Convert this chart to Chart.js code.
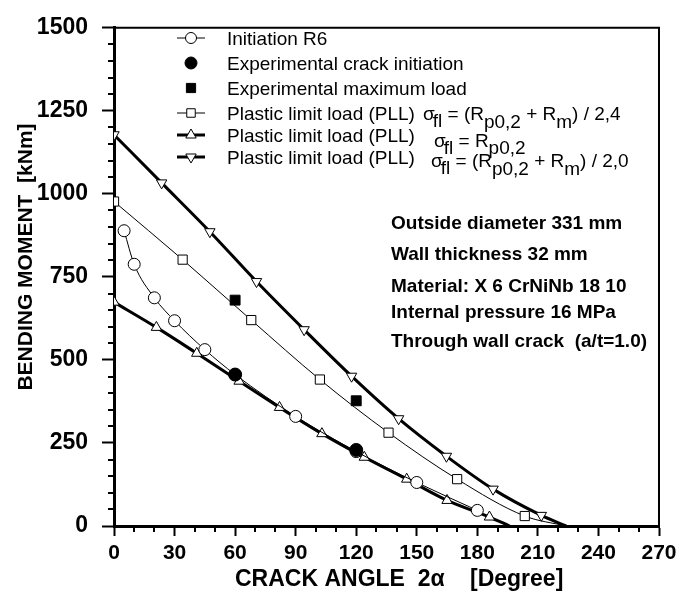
<!DOCTYPE html>
<html>
<head>
<meta charset="utf-8">
<script src="https://cdn.jsdelivr.net/npm/chart.js@4.4.1/dist/chart.umd.min.js"></script>
<style>
  html, body { margin: 0; padding: 0; background: #fff; }
  #wrap { width: 688px; height: 600px; }
</style>
</head>
<body>
<div id="wrap"><canvas id="chart" width="688" height="600"></canvas></div>
<script>
// values (crack angle in degree, moment in kNm)
const angleR6 = [5, 10, 20, 30, 45, 60, 90, 120, 150, 180];
const momentR6 = [889, 788, 687, 618, 531, 456, 330, 224, 131, 47];

const angleExpInit = [60, 120];
const momentExpInit = [456, 229];

const angleExpMax = [60, 120];
const momentExpMax = [680, 377];

const anglePll24 = [0, 34, 68, 102, 136, 170, 203.5, 224];
const momentPll24 = [977, 802, 620, 441, 281, 141, 30, 0];

const anglePllRp = [0, 21, 41, 62, 82, 103, 124, 145, 165, 186, 196];
const momentPllRp = [674, 598, 520, 436, 357, 278, 207, 141, 77, 27, 0];

const anglePll20 = [0, 23.6, 47.5, 70.6, 94.2, 117.7, 141, 164.7, 187.8, 211.7, 224];
const momentPll20 = [1178, 1033, 886, 736, 591, 451, 323, 210, 111, 32, 0];

const xTicks = [0, 30, 60, 90, 120, 150, 180, 210, 240, 270];
const yTicks = [0, 250, 500, 750, 1000, 1250, 1500];

const notes = [
  'Outside diameter 331 mm',
  'Wall thickness 32 mm',
  'Material: X 6 CrNiNb 18 10',
  'Internal pressure 16 MPa',
  'Through wall crack  (a/t=1.0)'
];

const FONT = "'Liberation Sans', Arial, sans-serif";
Chart.defaults.font.family = FONT;
Chart.defaults.color = '#000';

function pts(xs, ys) {
  return xs.map((v, i) => ({ x: v, y: ys[i] }));
}
// last point of a limit-load curve is the zero crossing, no marker there
function noLast(n, r) {
  return Array.from({ length: n }, (_, i) => (i === n - 1 ? 0 : r));
}

function rich(ctx, x, y, parts) {
  parts.forEach(p => {
    ctx.fillText(p[0], x, y + p[1]);
    x += ctx.measureText(p[0]).width + (p[2] || 0);
  });
}

const decor = {
  id: 'decor',
  afterDraw(chart) {
    const ctx = chart.ctx;
    const a = chart.chartArea;
    const xs = chart.scales.x, ys = chart.scales.y;
    ctx.save();
    ctx.strokeStyle = '#000';
    ctx.fillStyle = '#000';

    // frame top / right
    ctx.lineWidth = 2;
    ctx.beginPath();
    ctx.moveTo(a.left, a.top);
    ctx.lineTo(a.right, a.top);
    ctx.lineTo(a.right, a.bottom);
    ctx.stroke();

    // minor ticks
    ctx.lineWidth = 2;
    ctx.beginPath();
    for (let v = 50; v < 1500; v += 50) {
      if (v % 250 === 0) continue;
      const py = Math.round(ys.getPixelForValue(v));
      ctx.moveTo(a.left - 6, py);
      ctx.lineTo(a.left, py);
    }
    for (let v = 10; v < 270; v += 10) {
      if (v % 30 === 0) continue;
      const px = Math.round(xs.getPixelForValue(v));
      ctx.moveTo(px, a.bottom);
      ctx.lineTo(px, a.bottom + 6);
    }
    ctx.stroke();

    // axis titles
    ctx.font = 'bold 23px ' + FONT;
    ctx.textAlign = 'left';
    ctx.textBaseline = 'middle';
    ctx.fillText('CRACK ANGLE  2\u03b1', 235, 580);
    ctx.fillText('[Degree]', 470, 580);
    ctx.save();
    ctx.translate(26, 257);
    ctx.rotate(-Math.PI / 2);
    ctx.textAlign = 'center';
    ctx.font = 'bold 21px ' + FONT;
    ctx.fillText('BENDING MOMENT  [kNm]', 0, 0);
    ctx.restore();

    // legend
    const rows = [38, 63, 88, 113, 135, 157];
    const lx0 = 177, lx1 = 205, mx = 191, tx = 227;
    const samples = [
      { line: 1, style: 'circle', r: 5.5, fill: '#fff' },
      { line: 0, style: 'circle', r: 6, fill: '#000' },
      { line: 0, style: 'rect', r: 6.5, fill: '#000' },
      { line: 1, style: 'rect', r: 6, fill: '#fff' },
      { line: 3, style: 'triangle', r: 6, fill: '#fff' },
      { line: 3, style: 'triangle', r: 6, fill: '#fff', rot: 180 }
    ];
    const labels = [
      'Initiation R6',
      'Experimental crack initiation',
      'Experimental maximum load',
      'Plastic limit load (PLL)',
      'Plastic limit load (PLL)',
      'Plastic limit load (PLL)'
    ];
    samples.forEach((s, i) => {
      const y = rows[i];
      if (s.line) {
        ctx.lineWidth = s.line;
        ctx.beginPath();
        ctx.moveTo(lx0, y);
        ctx.lineTo(lx1, y);
        ctx.stroke();
      }
      ctx.lineWidth = 1;
      ctx.fillStyle = s.fill;
      Chart.helpers.drawPoint(ctx, {
        pointStyle: s.style, radius: s.r, rotation: s.rot || 0, borderWidth: 1
      }, mx, y);
      ctx.fillStyle = '#000';
    });
    ctx.font = '19px ' + FONT;
    ctx.textAlign = 'left';
    ctx.textBaseline = 'alphabetic';
    labels.forEach((t, i) => ctx.fillText(t, tx, rows[i] + 7));

    rich(ctx, 423, rows[3] + 7, [['\u03c3', 0, -2], ['fl', 7], [' = (R', 0], ['p0,2', 8], [' + R', 0], ['m', 8], [') / 2,4', 0]]);
    rich(ctx, 434, rows[4] + 12, [['\u03c3', 0, -2], ['fl', 7], [' = R', 0], ['p0,2', 7]]);
    rich(ctx, 431, rows[5] + 10, [['\u03c3', 0, -2], ['fl', 7], [' = (R', 0], ['p0,2', 8], [' + R', 0], ['m', 8], [') / 2,0', 0]]);

    // data sheet
    ctx.font = 'bold 19px ' + FONT;
    ctx.textBaseline = 'middle';
    const ny = [224, 255, 287, 313, 342];
    notes.forEach((t, i) => ctx.fillText(t, 391, ny[i]));
    ctx.restore();
  }
};

new Chart(document.getElementById('chart'), {
  type: 'line',
  data: {
    datasets: [
      {
        label: 'Experimental crack initiation',
        data: pts(angleExpInit, momentExpInit),
        showLine: false,
        pointStyle: 'circle', pointRadius: 6.5,
        pointBackgroundColor: '#000', pointBorderColor: '#000', pointBorderWidth: 1
      },
      {
        label: 'Experimental maximum load',
        data: pts(angleExpMax, momentExpMax),
        showLine: false,
        pointStyle: 'rect', pointRadius: 7,
        pointBackgroundColor: '#000', pointBorderColor: '#000', pointBorderWidth: 1
      },
      {
        label: 'Initiation R6',
        data: pts(angleR6, momentR6),
        borderColor: '#000', borderWidth: 1,
        pointStyle: 'circle', pointRadius: 6,
        pointBackgroundColor: '#fff', pointBorderColor: '#000', pointBorderWidth: 1,
        cubicInterpolationMode: 'monotone'
      },
      {
        label: 'PLL (Rp0,2 + Rm) / 2,4',
        data: pts(anglePll24, momentPll24),
        borderColor: '#000', borderWidth: 1,
        pointStyle: 'rect', pointRadius: noLast(anglePll24.length, 6.5),
        pointBackgroundColor: '#fff', pointBorderColor: '#000', pointBorderWidth: 1,
        cubicInterpolationMode: 'monotone'
      },
      {
        label: 'PLL Rp0,2',
        data: pts(anglePllRp, momentPllRp),
        borderColor: '#000', borderWidth: 3,
        pointStyle: 'triangle', pointRadius: noLast(anglePllRp.length, 6),
        pointBackgroundColor: '#fff', pointBorderColor: '#000', pointBorderWidth: 1,
        cubicInterpolationMode: 'monotone'
      },
      {
        label: 'PLL (Rp0,2 + Rm) / 2,0',
        data: pts(anglePll20, momentPll20),
        borderColor: '#000', borderWidth: 3,
        pointStyle: 'triangle', pointRotation: 180, pointRadius: noLast(anglePll20.length, 6),
        pointBackgroundColor: '#fff', pointBorderColor: '#000', pointBorderWidth: 1,
        cubicInterpolationMode: 'monotone'
      }
    ]
  },
  options: {
    responsive: false,
    animation: false,
    layout: { padding: { left: 0, right: 29, top: 18, bottom: 0 } },
    plugins: { legend: { display: false }, tooltip: { enabled: false } },
    scales: {
      x: {
        type: 'linear', min: 0, max: 270,
        afterFit: s => { s.height = 74; },
        afterBuildTicks: s => { s.ticks = xTicks.map(v => ({ value: v })); },
        ticks: { font: { size: 21, weight: 'bold' }, padding: 5, maxRotation: 0, autoSkip: false, callback: v => String(v) },
        grid: { drawOnChartArea: false, drawTicks: true, tickLength: 10, tickWidth: 2, tickColor: '#000' },
        border: { display: true, width: 3, color: '#000' }
      },
      y: {
        type: 'linear', min: 0, max: 1500,
        afterFit: s => { s.width = 114; },
        afterBuildTicks: s => { s.ticks = yTicks.map(v => ({ value: v })); },
        ticks: { font: { size: 23, weight: 'bold' }, padding: 14, autoSkip: false, callback: v => String(v) },
        grid: { drawOnChartArea: false, drawTicks: true, tickLength: 12, tickWidth: 2, tickColor: '#000' },
        border: { display: true, width: 3, color: '#000' }
      }
    }
  },
  plugins: [decor]
});
</script>
</body>
</html>
